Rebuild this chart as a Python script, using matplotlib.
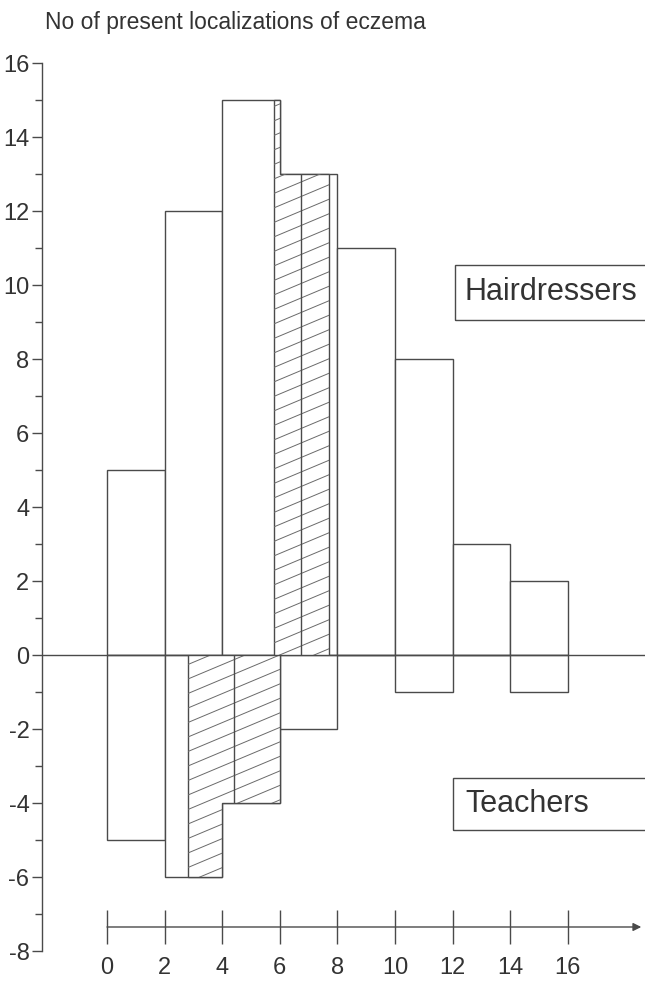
import numpy as np
import matplotlib
matplotlib.use("Agg")
import matplotlib.pyplot as plt
from matplotlib.collections import LineCollection
from matplotlib.patches import Rectangle

plt.rcParams['font.family'] = ['Liberation Sans', 'DejaVu Sans']
plt.rcParams['axes.unicode_minus'] = False

# ---- data ----
bin_edges = [0, 2, 4, 6, 8, 10, 12, 14, 16]
hairdressers = [5, 12, 15, 13, 11, 8, 3, 2]
teachers = [-5, -6, -4, -2, 0, -1, 0, -1]
hair_hatch_edges = [5.8, 6.0, 7.7]
hair_hatch_values = [15, 13]
hair_hatch_divider = 6.75
teach_hatch_edges = [2.8, 4.0, 6.0]
teach_hatch_values = [-6, -4]
teach_hatch_divider = 4.4
y_major = list(range(-8, 17, 2))
y_minor = list(range(-7, 16, 2))
x_ticks = list(range(0, 17, 2))
title = "No of present localizations of eczema"
series_labels = ["Hairdressers", "Teachers"]

LC = '#4a4a4a'
HC = '#6a6a6a'
TC = '#333333'
LW = 1.0

W_IN, H_IN, DPI = 6.45, 9.88, 100
fig = plt.figure(figsize=(W_IN, H_IN), dpi=DPI)
ax_rect = [0.0651, 0.0374, 0.9349, 0.8988]
ax = fig.add_axes(ax_rect)

lefts = bin_edges[:-1]
widths = np.diff(bin_edges)
ax.bar(lefts, hairdressers, width=widths, align='edge', facecolor='white',
       edgecolor=LC, linewidth=LW, zorder=2)
ax.bar(lefts, teachers, width=widths, align='edge', facecolor='white',
       edgecolor=LC, linewidth=LW, zorder=2)

# custom shallow hatching
ax_w_px = W_IN * DPI * ax_rect[2]
ax_h_px = H_IN * DPI * ax_rect[3]
slope = 0.42
spacing = 14.5
segs = []
for c in np.arange(-slope * ax_w_px, ax_h_px + spacing, spacing):
    segs.append([(0, c / ax_h_px), (1, (slope * ax_w_px + c) / ax_h_px)])


def hatched(values, edges, divider):
    sp = ax.stairs(values, edges, baseline=0, fill=True, facecolor='white',
                   edgecolor=LC, linewidth=LW, zorder=3)
    lc = LineCollection(segs, transform=ax.transAxes, colors=HC,
                        linewidths=0.7, zorder=3.5)
    lc.set_clip_path(sp)
    ax.add_collection(lc, autolim=False)
    idx = int(np.searchsorted(edges, divider)) - 1
    ax.vlines(divider, 0, values[idx], color=LC, linewidth=LW, zorder=4)


hatched(hair_hatch_values, hair_hatch_edges, hair_hatch_divider)
hatched(teach_hatch_values, teach_hatch_edges, teach_hatch_divider)

ax.axhline(0, color=LC, linewidth=LW, zorder=5)

ax.set_xlim(-2.257, 18.68)
ax.set_ylim(-8, 16)

for s in ['top', 'right', 'bottom']:
    ax.spines[s].set_visible(False)
ax.spines['left'].set_color(LC)
ax.spines['left'].set_linewidth(LW)
ax.set_xticks([])
ax.set_yticks(y_major)
ax.set_yticks(y_minor, minor=True)
ax.tick_params(axis='y', which='major', direction='out', length=7, width=LW,
               color=LC, labelsize=17, labelcolor=TC, pad=2)
ax.tick_params(axis='y', which='minor', direction='out', length=5, width=LW,
               color=LC)

# separate x axis with arrow
axis_y = -7.35
ax.annotate('', xy=(18.55, axis_y), xytext=(x_ticks[0], axis_y),
            arrowprops=dict(arrowstyle='-|>', color=LC, lw=LW,
                            mutation_scale=12, shrinkA=0, shrinkB=0),
            annotation_clip=False)
ax.vlines(x_ticks, axis_y - 0.47, axis_y + 0.47, color=LC, linewidth=LW,
          clip_on=False)
for xv in x_ticks:
    ax.text(xv, -8.45, str(xv), ha='center', va='center', fontsize=17,
            color=TC, clip_on=False)

fig.text(45 / 645, 1 - 22 / 988, title, ha='left', va='center',
         fontsize=16.5, color=TC)

# label boxes
ax.add_patch(Rectangle((12.08, 9.05), 10, 1.49, fill=False, edgecolor=LC,
                       linewidth=LW, clip_on=False))
ax.text(12.43, 9.8, series_labels[0], ha='left', va='center', fontsize=22,
        color=TC)
ax.add_patch(Rectangle((12.0, -4.73), 10, 1.41, fill=False, edgecolor=LC,
                       linewidth=LW, clip_on=False))
ax.text(12.43, -4.02, series_labels[1], ha='left', va='center', fontsize=22,
        color=TC)

fig.savefig('out.png', dpi=DPI)
